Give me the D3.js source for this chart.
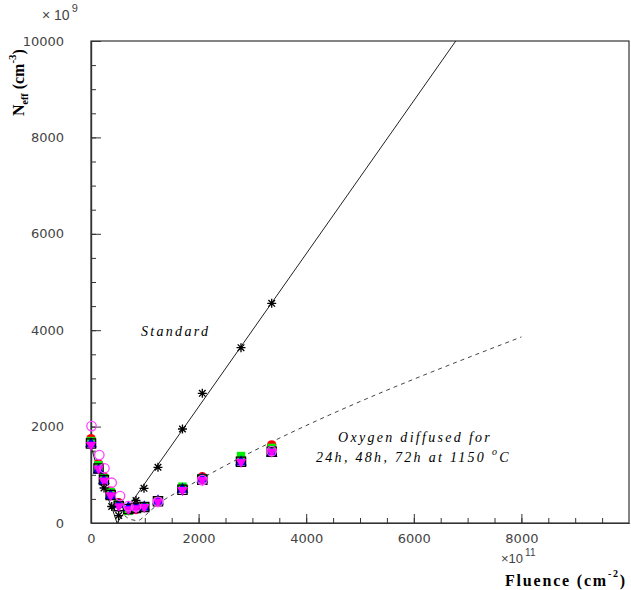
<!DOCTYPE html>
<html><head><meta charset="utf-8">
<script src="https://cdn.jsdelivr.net/npm/d3@7/dist/d3.min.js"></script>
<style>
html,body{margin:0;padding:0;background:#fff;}
svg{display:block;}
</style></head>
<body>
<svg id="chart" width="631" height="590"></svg>
<script>
// ---- data (x in 1e11 cm^-2, y in 1e9 cm^-3) ----
const xTicksMajor = [0, 2000, 4000, 6000, 8000];
const yTicksMajor = [0, 2000, 4000, 6000, 8000, 10000];

const stdFluence = [242, 385, 515, 836, 985, 1245, 1700, 2069, 2788, 3359];
const stdNeff    = [726, 342, 155, 467, 720, 1156, 1950, 2690, 3637, 4558];

const stdFitX = [0, 100, 200, 300, 400, 483, 6780];
const stdFitY = [1590, 1200, 870, 560, 280, 0, 10000];

const oxyFitX = [0, 150, 250, 370, 500, 620, 750, 870, 1000, 1150, 1320, 1700, 8000];
const oxyFitY = [1650, 1150, 880, 580, 330, 160, 70, 50, 150, 300, 450, 698, 3860];

const oxyFluence = [0, 140, 240, 365, 515, 695, 836, 990, 1245, 1700, 2069, 2788, 3359];
const oxyRed     = [1750, 1230, 960, 660, 420, 260, 280, 330, 470, 720, 960, 1340, 1620];
const oxyGreen   = [1700, 1200, 930, 640, 390, 250, 300, 340, 450, 755, 930, 1390, 1560];
const oxyBlue    = [1640, 1100, 880, 570, 380, 320, 340, 330, 456, 700, 910, 1265, 1445];
const oxySquare  = [1650, 1130, 890, 580, 350, 290, 310, 330, 450, 690, 900, 1270, 1480];
const oxyDownTri = [1620, 1130, 880, 575, 345, 285, 305, 330, 445, 685, 890, 1270, 1480];

const oxyCircFluence = [10, 155, 250, 385, 540, 695, 836, 1245, 2069, 3359];
const oxyCircNeff    = [2010, 1410, 1135, 836, 560, 350, 338, 440, 890, 1490];

// ---- layout ----
const svg = d3.select("#chart");
const L = 91, T = 41, R = 629, B = 523;
const x = d3.scaleLinear().domain([0, 10000]).range([L, R]);
const y = d3.scaleLinear().domain([0, 10000]).range([B, T]);

const axisColor = "#333";
const labelFont = "'DejaVu Sans', sans-serif";
const expFont = "'Liberation Sans', Arial, sans-serif";
const serif = "'Liberation Serif', 'DejaVu Serif', serif";

// frame
svg.append("rect").attr("x", L).attr("y", T).attr("width", R - L).attr("height", B - T)
  .attr("fill", "none").attr("stroke", axisColor).attr("stroke-width", 1.2);

// ticks (inside)
const xMinor = d3.range(0, 10000, 500);
const yMinor = d3.range(0, 10001, 500);
const gx = svg.append("g").attr("transform", `translate(0,${B})`)
  .call(d3.axisBottom(x).tickValues(xMinor).tickSizeInner(-5).tickSizeOuter(0).tickFormat(""));
const gxM = svg.append("g").attr("transform", `translate(0,${B})`)
  .call(d3.axisBottom(x).tickValues(xTicksMajor).tickSizeInner(-9).tickSizeOuter(0).tickPadding(16)
    .tickFormat(d3.format("d")));
const gy = svg.append("g").attr("transform", `translate(${L},0)`)
  .call(d3.axisLeft(y).tickValues(yMinor).tickSizeInner(-5).tickSizeOuter(0).tickFormat(""));
const gyM = svg.append("g").attr("transform", `translate(${L},0)`)
  .call(d3.axisLeft(y).tickValues(yTicksMajor).tickSizeInner(-10).tickSizeOuter(0).tickPadding(27)
    .tickFormat(d3.format("d")));
[gx, gxM, gy, gyM].forEach(g => {
  g.select(".domain").attr("stroke", axisColor).attr("stroke-width", 1.2);
  g.selectAll(".tick line").attr("stroke", axisColor);
  g.selectAll("text").attr("font-family", labelFont).attr("font-size", 13).attr("fill", "#444");
});
gxM.selectAll("text").attr("dy", "0.3em");

// fit lines
const line = d3.line().x(d => x(d[0])).y(d => y(d[1]));
svg.append("path").datum(stdFitX.map((v, i) => [v, stdFitY[i]]))
  .attr("d", line).attr("fill", "none").attr("stroke", "#222").attr("stroke-width", 1);
svg.append("path").datum(oxyFitX.map((v, i) => [v, oxyFitY[i]]))
  .attr("d", d3.line().curve(d3.curveMonotoneX).x(d => x(d[0])).y(d => y(d[1])))
  .attr("fill", "none").attr("stroke", "#444").attr("stroke-width", 1)
  .attr("stroke-dasharray", "4,4");

// markers
function sym(type, size) { return d3.symbol().type(type).size(size)(); }
function plot(xs, ys, type, size, fill, stroke, sw, rot) {
  svg.append("g").selectAll("path").data(xs.map((v, i) => [v, ys[i]])).join("path")
    .attr("d", sym(type, size))
    .attr("transform", d => `translate(${x(d[0])},${y(d[1])})` + (rot ? ` rotate(${rot})` : ""))
    .attr("fill", fill).attr("stroke", stroke || "none").attr("stroke-width", sw || 0);
}
plot(oxyFluence, oxyRed, d3.symbolCircle, 70, "#ff0000");
plot(oxyFluence, oxyGreen, d3.symbolSquare, 70, "#00ee00");
plot(oxyFluence, oxyBlue, d3.symbolTriangle, 60, "#0000ff");
plot(oxyFluence, oxySquare, d3.symbolSquare, 85, "none", "#000", 1.3);
plot(oxyFluence, oxyDownTri, d3.symbolTriangle, 50, "#ff00ff", null, 0, 180);
plot(oxyCircFluence, oxyCircNeff, d3.symbolCircle, 70, "none", "#ff44ff", 1.3);

// asterisks for standard
const ast = svg.append("g");
stdFluence.forEach((f, i) => {
  const cx = x(f), cy = y(stdNeff[i]), r = 4.5, rd = 3.3;
  ast.append("path")
    .attr("d", `M${cx - r},${cy}L${cx + r},${cy}M${cx},${cy - r}L${cx},${cy + r}` +
      `M${cx - rd},${cy - rd}L${cx + rd},${cy + rd}M${cx - rd},${cy + rd}L${cx + rd},${cy - rd}`)
    .attr("stroke", "#000").attr("stroke-width", 1.3).attr("fill", "none");
});

// texts
const txt = (tx, ty, s, opts) => {
  const t = svg.append("text").attr("x", tx).attr("y", ty).text(s);
  Object.entries(opts || {}).forEach(([k, v]) => t.attr(k, v));
  return t;
};
// exponent labels
const e9 = svg.append("text").attr("x", 42).attr("y", 20).attr("font-family", expFont)
  .attr("font-size", 14).attr("fill", "#444").attr("xml:space", "preserve");
e9.append("tspan").text("× 10");
e9.append("tspan").attr("dx", 2).attr("dy", -8).attr("font-size", 11).text("9");

const e11 = svg.append("text").attr("x", 501).attr("y", 563).attr("font-family", expFont)
  .attr("font-size", 13).attr("fill", "#444");
e11.append("tspan").text("×10");
e11.append("tspan").attr("dx", 2).attr("dy", -7).attr("font-size", 10).text("11");

// axis titles
const xt = svg.append("text").attr("x", 627).attr("y", 586).attr("text-anchor", "end")
  .attr("font-family", serif).attr("font-weight", "bold").attr("font-size", 16)
  .attr("letter-spacing", 1.8).attr("fill", "#000");
xt.append("tspan").text("Fluence (cm");
xt.append("tspan").attr("dy", -9).attr("font-size", 10).text("-2");
xt.append("tspan").attr("dy", 9).text(")");

const yt = svg.append("text").attr("transform", "translate(24,116) rotate(-90)")
  .attr("font-family", serif).attr("font-weight", "bold").attr("font-size", 16).attr("fill", "#000");
yt.append("tspan").text("N");
yt.append("tspan").attr("dy", 4).attr("font-size", 10).text("eff");
yt.append("tspan").attr("dy", -4).text(" (cm");
yt.append("tspan").attr("dy", -8).attr("font-size", 11).text("-3");
yt.append("tspan").attr("dy", 8).text(")");

// annotations
const ann = {"font-family": serif, "font-style": "italic", "font-size": 14, "letter-spacing": 2.3, fill: "#000"};
txt(141, 336, "Standard", ann);
txt(338, 442, "Oxygen diffused for", ann);
const t2 = txt(316, 462, "24h, 48h, 72h at 1150 ", Object.assign({"xml:space": "preserve"}, ann));
t2.append("tspan").attr("dy", -7).attr("font-size", 10).text("o");
t2.append("tspan").attr("dy", 7).text("C");
</script>
</body></html>
